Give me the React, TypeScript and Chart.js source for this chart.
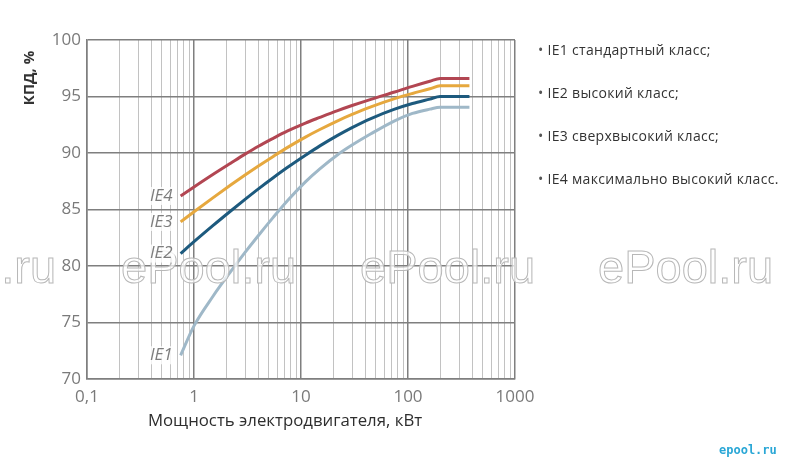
import React, { useEffect, useRef } from "react";
import { Chart, registerables } from "chart.js";

Chart.register(...registerables);

// ---- data ----
const power = [0.75, 1, 1.5, 2.2, 3, 4, 5.5, 7.5, 11, 15, 22, 30, 45, 75, 110, 160, 200, 375];
const ie1 = [72.1, 74.7, 77.3, 79.5, 81.2, 82.7, 84.3, 85.8, 87.45, 88.6, 89.85, 90.7, 91.7, 92.85, 93.5, 93.88, 94.05, 94.05];
const ie2 = [81.1, 82.15, 83.57, 84.87, 85.9, 86.83, 87.81, 88.73, 89.8, 90.63, 91.56, 92.25, 93.05, 93.88, 94.38, 94.77, 95.0, 95.0];
const ie3 = [83.9, 84.8, 86.03, 87.16, 88.05, 88.85, 89.7, 90.5, 91.41, 92.08, 92.85, 93.41, 94.08, 94.81, 95.27, 95.68, 95.95, 95.95];
const ie4 = [86.2, 87.0, 88.1, 89.1, 89.9, 90.6, 91.3, 91.95, 92.65, 93.15, 93.75, 94.2, 94.75, 95.4, 95.9, 96.35, 96.6, 96.6];

const seriesNames = ["IE1", "IE2", "IE3", "IE4"];
const seriesValues = [ie1, ie2, ie3, ie4];
const seriesColors = ["#9fb8c8", "#1d5a7e", "#e6a83e", "#b24652"];

const xMin = 0.1;
const xMax = 1000;
const xDecadeLabels: Record<string, string> = { "-1": "0,1", "0": "1", "1": "10", "2": "100", "3": "1000" };
const xGridMultipliers = [1, 2, 3, 4, 5, 6, 7, 8, 9];
const xGridDecades = [0.1, 1, 10, 100];
const yMin = 70;
const yMax = 100;
const yStep = 5;

const yTitle = "КПД, %";
const xTitle = "Мощность электродвигателя, кВт";
const legendItems = [
  "IE1 стандартный класс;",
  "IE2 высокий класс;",
  "IE3 сверхвысокий класс;",
  "IE4 максимально высокий класс.",
];
const watermark = "ePool.ru";
const logoText = "epool.ru";

const isDecade = (v: number) => {
  const l = Math.log10(v);
  return Math.abs(l - Math.round(l)) < 1e-6;
};

export default function App() {
  const ref = useRef<HTMLCanvasElement | null>(null);

  useEffect(() => {
    if (!ref.current) return;

    const gridValues: number[] = [];
    xGridDecades.forEach((d) => xGridMultipliers.forEach((m) => gridValues.push(parseFloat((m * d).toPrecision(6)))));
    gridValues.push(xMax);

    const overlay = {
      id: "overlay",
      afterDraw(chart: any) {
        const ctx = chart.ctx;

        // watermark (outlined text)
        ctx.save();
        ctx.font = "47px 'Liberation Sans', Arial, sans-serif";
        ctx.textAlign = "left";
        ctx.textBaseline = "alphabetic";
        ctx.lineWidth = 1;
        ctx.strokeStyle = "#b8b8b8";
        ctx.fillStyle = "rgba(255,255,255,0.7)";
        [-119, 121, 360, 598].forEach((x) => {
          ctx.fillText(watermark, x, 283);
          ctx.strokeText(watermark, x, 283);
        });
        ctx.restore();

        // curve labels
        ctx.save();
        ctx.font = "italic 17px 'Open Sans', sans-serif";
        ctx.textAlign = "right";
        ctx.textBaseline = "middle";
        chart.data.datasets.forEach((ds: any, i: number) => {
          const pt = chart.getDatasetMeta(i).data[0];
          const x = pt.x - 8;
          const y = pt.y;
          const w = ctx.measureText(ds.label).width;
          ctx.fillStyle = "rgba(255,255,255,0.8)";
          ctx.fillRect(x - w - 3, y - 9, w + 5, 18);
          ctx.fillStyle = "#7d7d7d";
          ctx.fillText(ds.label, x, y);
        });
        ctx.restore();

        // axis titles
        ctx.save();
        ctx.translate(30, 78);
        ctx.rotate(-Math.PI / 2);
        ctx.font = "bold 15px 'Open Sans', sans-serif";
        ctx.fillStyle = "#333333";
        ctx.textAlign = "center";
        ctx.textBaseline = "middle";
        ctx.fillText(yTitle, 0, 0);
        ctx.restore();

        ctx.save();
        ctx.font = "16.8px 'Open Sans', sans-serif";
        ctx.fillStyle = "#2e2e2e";
        ctx.textAlign = "center";
        ctx.textBaseline = "middle";
        ctx.fillText(xTitle, 285, 421);
        ctx.restore();
      },
    };

    const chart = new Chart(ref.current, {
      type: "line",
      data: {
        datasets: seriesNames.map((name, i) => ({
          label: name,
          data: power.map((p, j) => ({ x: p, y: seriesValues[i][j] })),
          borderColor: seriesColors[i],
          backgroundColor: seriesColors[i],
          borderWidth: 3,
          pointRadius: 0,
          cubicInterpolationMode: "monotone",
          fill: false,
        })),
      },
      options: {
        responsive: false,
        animation: false,
        devicePixelRatio: 1,
        layout: { padding: { left: 0, right: 270, top: 40, bottom: 0 } },
        plugins: {
          legend: { display: false },
          tooltip: { enabled: false },
          title: { display: false },
        },
        scales: {
          x: {
            type: "logarithmic",
            min: xMin,
            max: xMax,
            afterBuildTicks: (scale: any) => {
              scale.ticks = gridValues.map((v) => ({ value: v }));
            },
            afterFit: (scale: any) => {
              scale.height = 85;
            },
            ticks: {
              autoSkip: false,
              maxRotation: 0,
              minRotation: 0,
              padding: 8,
              color: "#7a7a7a",
              font: { family: "'Open Sans', sans-serif", size: 17 },
              callback: (v: any) => {
                const n = Number(v);
                return isDecade(n) ? xDecadeLabels[String(Math.round(Math.log10(n)))] ?? "" : "";
              },
            },
            grid: {
              drawTicks: false,
              color: (c: any) => (c.tick && isDecade(c.tick.value) ? "#7f7f7f" : "#c2c2c2"),
              lineWidth: (c: any) => (c.tick && isDecade(c.tick.value) ? 1.5 : 1),
            },
            border: { display: true, color: "#7f7f7f", width: 1.5 },
          },
          y: {
            type: "linear",
            min: yMin,
            max: yMax,
            afterFit: (scale: any) => {
              scale.width = 87;
            },
            ticks: {
              stepSize: yStep,
              padding: 6,
              color: "#7a7a7a",
              font: { family: "'Open Sans', sans-serif", size: 17 },
            },
            grid: { drawTicks: false, color: "#7f7f7f", lineWidth: 1.5 },
            border: { display: true, color: "#7f7f7f", width: 1.5 },
          },
        },
      },
      plugins: [overlay],
    } as any);

    return () => chart.destroy();
  }, []);

  const legendCenters = [50.3, 93.3, 136.3, 179.3];

  return (
    <div style={{ position: "fixed", left: 0, top: 0, width: 785, height: 464, background: "#fff", overflow: "hidden" }}>
      <canvas ref={ref} width={785} height={464} style={{ position: "absolute", left: 0, top: 0, width: 785, height: 464 }} />
      {legendItems.map((t, i) => (
        <div
          key={t}
          style={{
            position: "absolute",
            left: 538,
            top: legendCenters[i] - 9.4,
            height: 18,
            lineHeight: "18px",
            fontFamily: "'Open Sans', sans-serif",
            fontSize: 14,
            letterSpacing: "0.3px",
            color: "#333",
            whiteSpace: "nowrap",
          }}
        >
          <span style={{ color: "#555" }}>•</span> {t}
        </div>
      ))}
      <div
        style={{
          position: "absolute",
          left: 719,
          top: 443,
          fontFamily: "'DejaVu Sans Mono', monospace",
          fontWeight: "bold",
          fontSize: 12,
          color: "#2aa7d6",
        }}
      >
        {logoText}
      </div>
    </div>
  );
}
